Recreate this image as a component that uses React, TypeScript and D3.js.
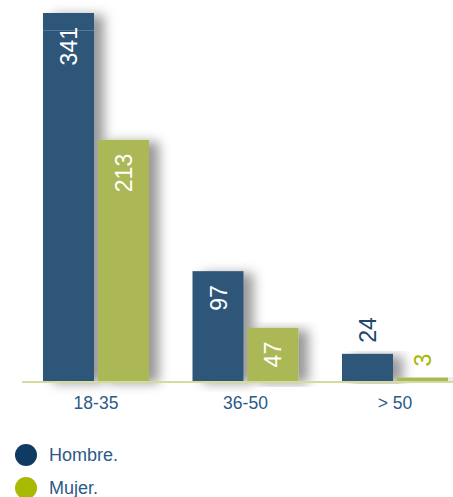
import React from "react";
import * as d3 from "d3";

const categories = ["18-35", "36-50", "> 50"];
const series = ["Hombre.", "Mujer."];
const hombre = [341, 97, 24];
const mujer = [213, 47, 3];

const barColors = ["#2d5679", "#abb855"];
const legendColors = ["#0f3a61", "#a9b800"];
const outsideLabelColors = ["#1d4670", "#a9b800"];
const textBlue = "#2b5b86";

const W = 453;
const H = 497;
const baseline = 381;

export default function App() {
  const values = [hombre, mujer];
  const x0 = d3.scalePoint<string>().domain(categories).range([96, 395]);
  const x1 = d3
    .scaleBand<string>()
    .domain(series)
    .range([-53, 53])
    .paddingInner(0.0727)
    .paddingOuter(0);
  const y = d3.scaleLinear().domain([0, 325]).range([baseline, 13]).clamp(true);
  const bw = x1.bandwidth();
  const font = "'Liberation Sans', Arial, Helvetica, sans-serif";

  const bars: React.ReactNode[] = [];
  const labels: React.ReactNode[] = [];
  categories.forEach((c, ci) => {
    series.forEach((s, si) => {
      const v = values[si][ci];
      const x = (x0(c) as number) + (x1(s) as number);
      const top = y(v);
      const h = baseline - top;
      const cx = x + bw / 2;
      bars.push(
        <rect key={`b${ci}${si}`} x={x} y={top} width={bw} height={h} fill={barColors[si]} filter="url(#shadow)" />
      );
      if (y.clamp() && v > y.domain()[1]) {
        bars.push(
          <line key={`br${ci}${si}`} x1={x} x2={x + bw} y1={top + 17.5} y2={top + 17.5} stroke="#ffffff" strokeOpacity={0.2} strokeWidth={1} />
        );
      }
      const inside = h > 40;
      labels.push(
        <text
          key={`l${ci}${si}`}
          transform={`translate(${cx + 8.5},${inside ? top + 14 : top - 11}) rotate(-90)`}
          textAnchor={inside ? "end" : "start"}
          fontSize={23}
          fontFamily={font}
          fill={inside ? "#ffffff" : outsideLabelColors[si]}
        >
          {v}
        </text>
      );
    });
  });

  return (
    <svg width={W} height={H} style={{ position: "absolute", left: 0, top: 0 }}>
      <defs>
        <filter id="shadow" x="-20%" y="-10%" width="170%" height="120%">
          <feDropShadow dx={10} dy={2} stdDeviation={6} floodColor="#000" floodOpacity={0.4} />
        </filter>
      </defs>
      <rect width={W} height={H} fill="#ffffff" />
      {bars}
      <line x1={22} x2={W} y1={baseline + 1} y2={baseline + 1} stroke="#d4dc9c" strokeWidth={2} />
      {labels}
      {categories.map((c) => (
        <text key={c} x={x0(c)} y={409} textAnchor="middle" fontSize={17.5} fontFamily={font} fill={textBlue}>
          {c}
        </text>
      ))}
      {series.map((s, i) => (
        <g key={s} transform={`translate(0,${455 + i * 33})`}>
          <circle cx={26} cy={0} r={11} fill={legendColors[i]} />
          <text x={49} y={6} fontSize={18} fontFamily={font} fill={textBlue}>
            {s}
          </text>
        </g>
      ))}
    </svg>
  );
}
